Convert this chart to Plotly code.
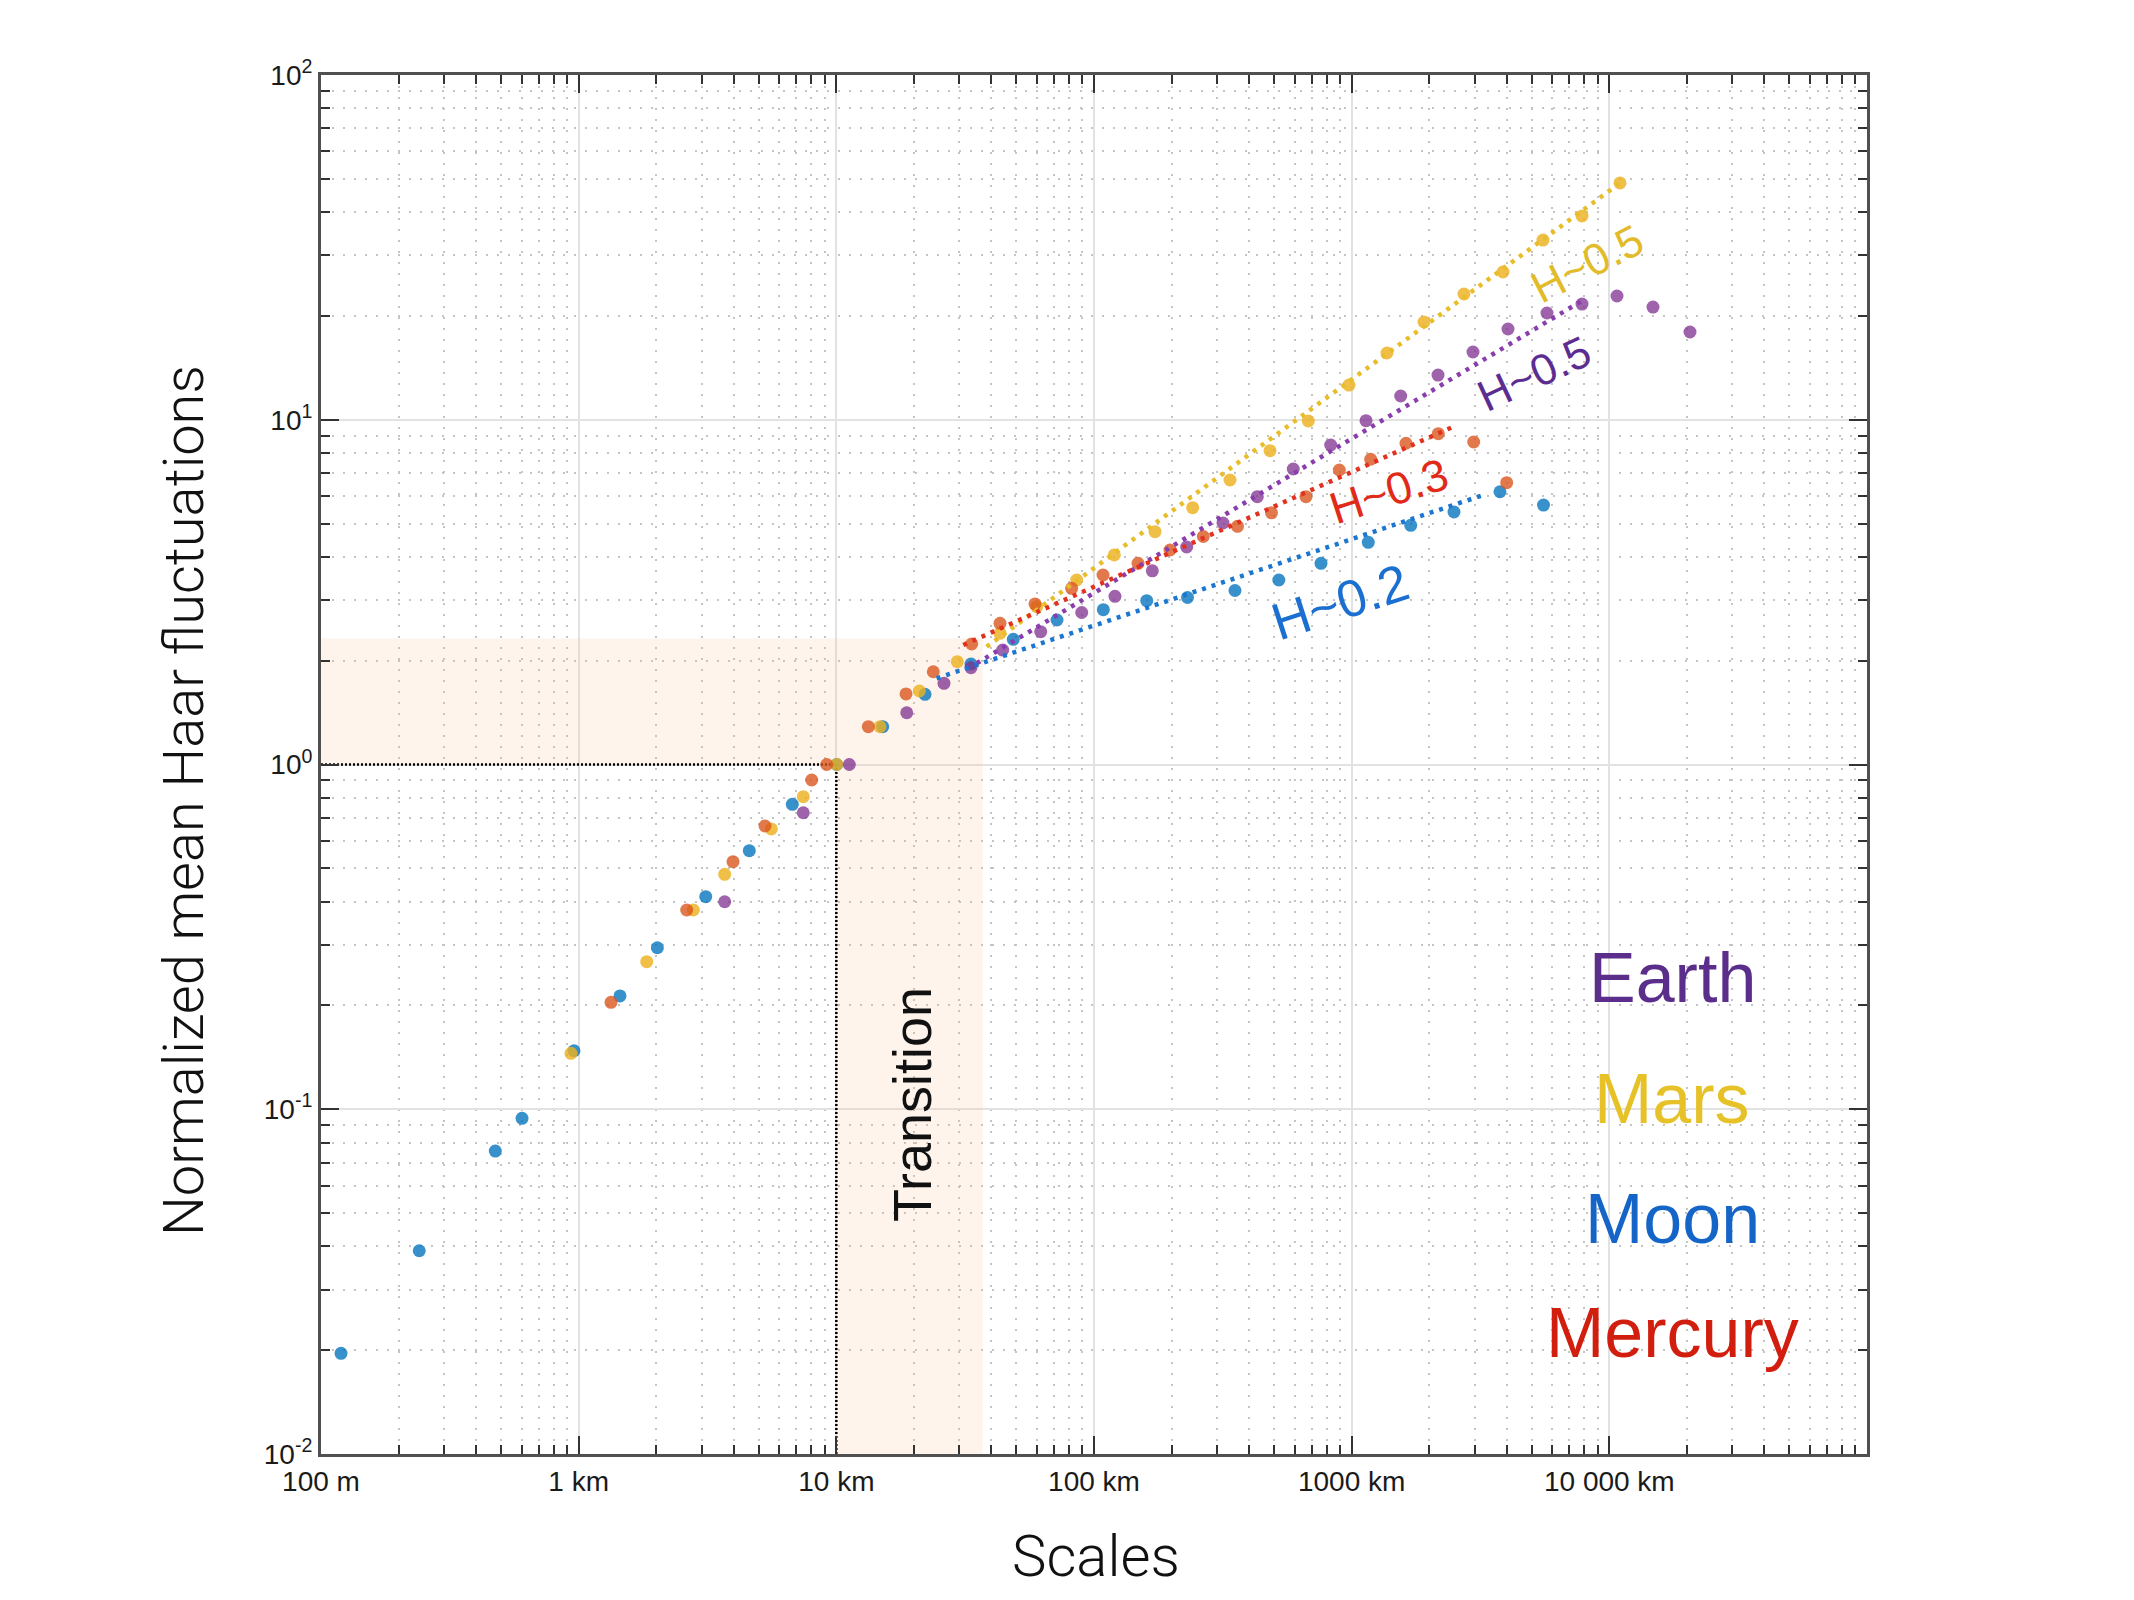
import plotly.graph_objects as go

# ---------------- data (scale in km, normalized mean Haar fluctuation) ----------------
moon_x = [0.1196, 0.2406, 0.4747, 0.6028, 0.9592, 1.447, 2.020, 3.112, 4.594, 6.747, 10.03,
          15.13, 22.09, 33.31, 48.62, 71.85, 108.7, 160.2, 230.6, 352.5, 521.6, 760.3, 1160,
          1695, 2495, 3763, 5552]
moon_y = [0.01959, 0.03887, 0.07565, 0.09412, 0.1478, 0.2131, 0.2941, 0.4136, 0.5623, 0.7665,
          1.0, 1.287, 1.598, 1.956, 2.307, 2.625, 2.812, 2.987, 3.051, 3.197, 3.429, 3.833,
          4.411, 4.940, 5.400, 6.183, 5.657]

mars_x = [0.9337, 1.837, 2.786, 3.687, 5.593, 7.443, 10.03, 14.77, 20.99, 29.48, 43.17, 59.93,
          85.66, 119.9, 172.5, 241.5, 337.1, 482.0, 678.7, 976.3, 1371, 1909, 2728, 3867, 5527,
          7832, 11000]
mars_y = [0.1453, 0.2679, 0.3784, 0.4803, 0.6502, 0.8064, 1.0, 1.287, 1.634, 1.987, 2.402,
          2.869, 3.429, 4.053, 4.734, 5.557, 6.687, 8.133, 9.917, 12.61, 15.62, 19.21, 23.16,
          26.83, 33.21, 38.99, 48.62]

mercury_x = [1.335, 2.626, 3.972, 5.287, 8.025, 9.175, 13.31, 18.64, 23.78, 33.52, 43.17, 59.02,
             81.91, 108.4, 148.2, 197.2, 265.6, 360.5, 488.5, 664.8, 895.3, 1185, 1625, 2169,
             2976, 3996]
mercury_y = [0.2043, 0.3784, 0.5225, 0.6632, 0.9016, 1.0, 1.287, 1.602, 1.858, 2.236, 2.568,
             2.922, 3.244, 3.545, 3.833, 4.190, 4.585, 4.908, 5.372, 5.981, 7.148, 7.680, 8.546,
             9.110, 8.619, 6.568]

earth_x = [3.687, 7.443, 11.23, 18.76, 26.17, 33.31, 44.22, 62.11, 89.60, 120.6, 168.4, 228.9,
           316.7, 430.3, 593.3, 829.0, 1137, 1550, 2163, 2957, 4043, 5728, 7832, 10710, 14770,
           20560]
earth_y = [0.3999, 0.7245, 1.0, 1.413, 1.720, 1.909, 2.148, 2.428, 2.760, 3.075, 3.646, 4.274,
           5.017, 5.981, 7.196, 8.449, 9.936, 11.72, 13.48, 15.72, 18.33, 20.40, 21.66, 22.85,
           21.23, 17.97]

# power-law fits (end points)
mars_fit_x = [38.3, 11000]
mars_fit_y = [2.196, 48.6]
earth_fit_x = [35.05, 7920]
earth_fit_y = [1.966, 22.25]
mercury_fit_x = [31.1, 2480]
mercury_fit_y = [2.222, 9.546]
moon_fit_x = [24.5, 3242]
moon_fit_y = [1.778, 6.05]

# reference point and transition zone
ref_scale = 10.0
ref_value = 1.0
transition_end = 37.0
transition_top = 2.32
x_min, x_max = 0.1, 1e5
y_min, y_max = 0.01, 100

x_tickvals = [0.1, 1, 10, 100, 1000, 10000]
x_ticktext = ["100 m", "1 km", "10 km", "100 km", "1000 km", "10 000 km"]
y_tickvals = [0.01, 0.1, 1, 10, 100]
y_ticktext = ["10<sup>-2</sup>", "10<sup>-1</sup>", "10<sup>0</sup>", "10<sup>1</sup>", "10<sup>2</sup>"]

# ---------------- layout geometry ----------------
W, H = 2134, 1600
L, R, T, B = 321, 1867, 75, 1454


def px(X):
    return (X - L) / (R - L)


def py(Y):
    return (B - Y) / (B - T)


minor_vals = [k * 10.0 ** d for d in range(-3, 6) for k in range(2, 10)]

fig = go.Figure()

# transition zone shading (L-shaped)
fig.add_trace(go.Scatter(
    x=[x_min, transition_end, transition_end, ref_scale, ref_scale, x_min, x_min],
    y=[transition_top, transition_top, y_min, y_min, ref_value, ref_value, transition_top],
    mode="lines", fill="toself", fillcolor="rgba(250,196,150,0.18)",
    line=dict(width=0), hoverinfo="skip", showlegend=False))

# reference dotted lines
fig.add_trace(go.Scatter(x=[x_min, ref_scale], y=[ref_value, ref_value], mode="lines",
                         line=dict(color="black", width=2.5, dash="2px,2px"), showlegend=False))
fig.add_trace(go.Scatter(x=[ref_scale, ref_scale], y=[y_min, ref_value], mode="lines",
                         line=dict(color="black", width=2.5, dash="2px,2px"), showlegend=False))

series = [
    ("Moon", moon_x, moon_y, "rgba(0,114,189,0.78)"),
    ("Mars", mars_x, mars_y, "rgba(237,177,32,0.82)"),
    ("Mercury", mercury_x, mercury_y, "rgba(217,83,25,0.78)"),
    ("Earth", earth_x, earth_y, "rgba(126,47,142,0.75)"),
]
for name, xs, ys, col in series:
    fig.add_trace(go.Scatter(x=xs, y=ys, mode="markers", name=name,
                             marker=dict(size=13, color=col, line=dict(width=0)),
                             showlegend=False))

fits = [
    (mars_fit_x, mars_fit_y, "#e8bd2a"),
    (earth_fit_x, earth_fit_y, "#8a3dad"),
    (mercury_fit_x, mercury_fit_y, "#e3311f"),
    (moon_fit_x, moon_fit_y, "#1a76d0"),
]
for xs, ys, col in fits:
    fig.add_trace(go.Scatter(x=xs, y=ys, mode="lines",
                             line=dict(color=col, width=4.5, dash="4px,6px"),
                             showlegend=False))

lab_font = "Liberation Sans, Arial, sans-serif"
thin_font = "Roboto, Liberation Sans, sans-serif"
annots = [
    dict(x=px(1587), y=py(264), text="H~0.5", textangle=-27,
         font=dict(size=44, color="#e2bb2a", family=lab_font)),
    dict(x=px(1534), y=py(374), text="H~0.5", textangle=-25,
         font=dict(size=44, color="#5c2d91", family=lab_font)),
    dict(x=px(1388), y=py(491), text="H~0.3", textangle=-18,
         font=dict(size=45, color="#e12a1a", family=lab_font)),
    dict(x=px(1340), y=py(602), text="H~0.2", textangle=-18,
         font=dict(size=52, color="#1a6fd0", family=lab_font)),
    dict(x=px(912), y=py(1105), text="Transition", textangle=-90,
         font=dict(size=54, color="#111111", family=lab_font)),
    dict(x=px(1672), y=py(978), text="Earth", font=dict(size=70, color="#5b2e8c", family=lab_font)),
    dict(x=px(1672), y=py(1099), text="Mars", font=dict(size=70, color="#e6c228", family=lab_font)),
    dict(x=px(1672), y=py(1219), text="Moon", font=dict(size=70, color="#1565c8", family=lab_font)),
    dict(x=px(1672), y=py(1333), text="Mercury", font=dict(size=70, color="#d21e0e", family=lab_font)),
    dict(x=px(184), y=py(801), text="Normalized mean Haar fluctuations", textangle=-90,
         font=dict(size=56, color="#111111", family=thin_font, weight=300)),
    dict(x=px(1096), y=py(1556), text="Scales",
         font=dict(size=58, color="#111111", family=thin_font, weight=300)),
]
for a in annots:
    a.update(xref="paper", yref="paper", showarrow=False, xanchor="center", yanchor="middle")

axis_common = dict(
    type="log", showline=True, linecolor="#505050", linewidth=3, mirror="allticks",
    ticks="inside", ticklen=18, tickwidth=2, tickcolor="#333333",
    showgrid=True, gridcolor="#e2e2e2", gridwidth=2, zeroline=False,
    tickfont=dict(size=28, color="#1a1a1a", family=lab_font),
    minor=dict(tickmode="array", tickvals=minor_vals, ticks="inside", ticklen=9, tickwidth=2,
               tickcolor="#333333", showgrid=True, gridcolor="#c4c4c4", gridwidth=1.5,
               griddash="2px,9px"),
)

fig.update_layout(
    width=W, height=H,
    margin=dict(l=L, r=W - R, t=T, b=H - B),
    paper_bgcolor="white", plot_bgcolor="white",
    showlegend=False,
    xaxis=dict(range=[-1, 5], tickmode="array", tickvals=x_tickvals, ticktext=x_ticktext,
               **axis_common),
    yaxis=dict(range=[-2, 2], tickmode="array", tickvals=y_tickvals, ticktext=y_ticktext,
               **axis_common),
    annotations=annots,
)

fig.write_html("out.html")
